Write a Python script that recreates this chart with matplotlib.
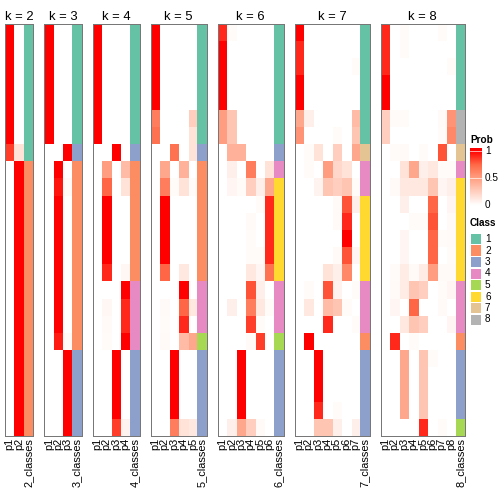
import matplotlib
matplotlib.use("Agg")
import matplotlib.pyplot as plt
import numpy as np
from matplotlib.colors import LinearSegmentedColormap, ListedColormap, BoundaryNorm
from matplotlib.patches import Rectangle

plt.rcParams["font.family"] = ["Liberation Sans", "DejaVu Sans"]

# --------------------------- data --------------------------------
class_colors = ["#66C2A5", "#FC8D62", "#8DA0CB", "#E78AC3",
                "#A6D854", "#FFD92F", "#E5C494", "#B3B3B3"]
class_labels = ["1", "2", "3", "4", "5", "6", "7", "8"]
prob_ticks = [1, 0.5, 0]
prob_tick_labels = ["1", "0.5", "0"]

prob_k2 = ([[1, 0]] * 7 + [[0.85, 0.15]] + [[0, 1]] * 16)
class_k2 = [1] * 8 + [2] * 16

prob_k3 = ([[1, 0, 0]] * 7
           + [[0, 0, 1], [0, 1, 0], [0, 0.95, 0.03]]
           + [[0, 1, 0]] * 8
           + [[0, 0.93, 0.03]]
           + [[0, 0, 1]] * 5)
class_k3 = [1] * 7 + [3] + [2] * 11 + [3] * 5

prob_k4 = ([[1, 0, 0, 0]] * 7
           + [[0, 0, 1, 0], [0, 0.5, 0, 0.35], [0, 0.75, 0, 0.15]]
           + [[0, 1, 0, 0]] * 4
           + [[0, 0.9, 0, 0.04], [0, 0, 0, 1], [0, 0.04, 0, 0.9],
              [0, 0.03, 0, 0.9], [0, 0.02, 0, 1]]
           + [[0, 0, 1, 0]] * 4
           + [[0, 0, 0.85, 0.06]])
class_k4 = [1] * 7 + [3] + [2] * 7 + [4] * 4 + [3] * 5

prob_k5 = ([[1, 0, 0, 0, 0]] * 5
           + [[0.65, 0, 0, 0, 0.25], [0.7, 0, 0, 0, 0.15],
              [0, 0, 0.7, 0, 0.15], [0, 0.45, 0, 0.4, 0],
              [0, 0.65, 0.02, 0.15, 0.02]]
           + [[0, 1, 0, 0, 0]] * 4
           + [[0, 0.75, 0, 0.12, 0], [0, 0, 0, 1, 0],
              [0, 0.03, 0, 0.75, 0.12], [0, 0.02, 0, 0.9, 0],
              [0, 0.03, 0, 0.35, 0.45]]
           + [[0, 0, 1, 0, 0]] * 4
           + [[0, 0, 0.65, 0.15, 0.12]])
class_k5 = [1] * 7 + [3] + [2] * 7 + [4] * 3 + [5] + [3] * 5

prob_k6 = ([[0.9, 0.02, 0, 0, 0, 0]]
           + [[1, 0, 0, 0, 0, 0]] * 4
           + [[0.5, 0.3, 0, 0, 0, 0], [0.5, 0.3, 0, 0, 0, 0],
              [0, 0.4, 0.4, 0, 0, 0], [0, 0.08, 0, 0.65, 0, 0.15],
              [0, 0.05, 0.02, 0.25, 0.08, 0.45], [0, 0, 0, 0, 0.02, 0.9],
              [0, 0, 0, 0.03, 0, 0.9], [0, 0, 0, 0.02, 0, 0.9],
              [0, 0, 0, 0.02, 0.02, 0.9], [0, 0, 0, 0.12, 0.05, 0.7],
              [0, 0, 0, 0.8, 0.08, 0], [0, 0.08, 0, 0.65, 0.12, 0.02],
              [0, 0, 0, 0.85, 0.02, 0], [0, 0, 0, 0.03, 0.85, 0]]
           + [[0, 0, 1, 0, 0, 0]] * 4
           + [[0, 0.08, 0.45, 0.25, 0.03, 0]])
class_k6 = [1] * 7 + [3] + [4] + [6] * 6 + [4] * 3 + [5] + [3] * 5

prob_k7 = ([[1, 0, 0, 0, 0, 0, 0], [0.9, 0, 0, 0, 0, 0, 0],
            [0.9, 0, 0, 0, 0, 0, 0.02], [1, 0, 0, 0, 0, 0, 0],
            [1, 0, 0, 0, 0, 0, 0], [0.45, 0.08, 0, 0, 0, 0, 0.35],
            [0.55, 0, 0, 0, 0.02, 0, 0.3], [0, 0.02, 0.15, 0, 0.25, 0, 0.45],
            [0, 0.02, 0, 0.5, 0.2, 0.15, 0], [0, 0, 0.06, 0.3, 0.25, 0.3, 0.02],
            [0, 0, 0, 0, 0.03, 0.8, 0.08], [0, 0, 0, 0, 0.03, 0.9, 0],
            [0, 0, 0, 0, 0, 1, 0], [0, 0, 0, 0, 0.03, 0.8, 0.05],
            [0, 0, 0, 0.15, 0.08, 0.6, 0], [0, 0.02, 0, 0.8, 0.06, 0, 0.02],
            [0, 0.12, 0, 0.35, 0.3, 0.02, 0], [0, 0, 0, 0.9, 0, 0, 0.02],
            [0, 1, 0, 0, 0, 0, 0]]
           + [[0, 0, 1, 0, 0, 0, 0]] * 3
           + [[0, 0, 0.9, 0, 0.02, 0, 0], [0, 0, 0.3, 0.3, 0.08, 0, 0.08]])
class_k7 = [1] * 7 + [7] + [4] * 2 + [6] * 5 + [4] * 3 + [2] + [3] * 5

prob_k8 = ([[0.9, 0, 0.02, 0, 0, 0, 0.02, 0], [0.9, 0, 0.02, 0, 0, 0, 0, 0],
            [0.9, 0, 0, 0, 0, 0, 0, 0.02], [1, 0, 0, 0, 0, 0, 0, 0],
            [1, 0, 0, 0, 0, 0, 0, 0], [0.25, 0.02, 0.02, 0, 0, 0, 0.03, 0.55],
            [0.25, 0, 0, 0, 0, 0, 0.02, 0.6], [0, 0.02, 0.03, 0, 0.02, 0, 0.8, 0],
            [0, 0, 0.15, 0.45, 0.08, 0.12, 0.02, 0.02],
            [0, 0.03, 0.12, 0.12, 0.12, 0.3, 0.05, 0.08],
            [0, 0, 0.08, 0, 0, 0.75, 0, 0.05], [0, 0, 0, 0.02, 0.02, 0.8, 0, 0.03],
            [0, 0, 0.05, 0, 0, 0.75, 0.02, 0.03], [0, 0, 0.05, 0, 0, 0.75, 0, 0.02],
            [0, 0.02, 0.1, 0.03, 0.1, 0.5, 0.03, 0.03],
            [0, 0.03, 0.1, 0.3, 0.25, 0, 0.02, 0.05],
            [0, 0.05, 0, 0.75, 0, 0, 0.03, 0], [0, 0, 0.12, 0.3, 0.25, 0, 0, 0.05],
            [0, 0.9, 0, 0.02, 0, 0, 0, 0], [0, 0, 0.45, 0, 0.3, 0.02, 0, 0]]
           + [[0, 0, 0.45, 0, 0.3, 0, 0, 0]] * 3
           + [[0, 0, 0, 0, 0.9, 0, 0.02, 0]])
class_k8 = [1] * 5 + [8] * 2 + [7] + [4] + [6] * 6 + [4] * 3 + [2] + [3] * 4 + [5]

panels = [(2, prob_k2, class_k2), (3, prob_k3, class_k3), (4, prob_k4, class_k4),
          (5, prob_k5, class_k5), (6, prob_k6, class_k6), (7, prob_k7, class_k7),
          (8, prob_k8, class_k8)]

# --------------------------- styles ------------------------------
# white -> red, interpolated in Lab like colorRamp2
prob_cmap = LinearSegmentedColormap.from_list(
    "prob", [(0.0, "#FFFFFF"), (0.25, "#FFCFBF"), (0.5, "#FF9E81"),
             (0.75, "#FF6846"), (1.0, "#FF0000")])
class_cmap = ListedColormap(class_colors)
class_norm = BoundaryNorm(np.arange(0.5, len(class_colors) + 1), len(class_colors))

W = H = 504
fig = plt.figure(figsize=(W / 72, H / 72), dpi=72)


def px_axes(x0, y0, x1, y1):
    return fig.add_axes([x0 / W, 1 - y1 / H, (x1 - x0) / W, (y1 - y0) / H])


left, top, bottom, right, gap = 5, 24, 436, 465, 11
ncols_total = sum(k + 1 for k, _, _ in panels)
colw = (right - left - gap * (len(panels) - 1)) / ncols_total

x = left
for k, probs, classes in panels:
    P = np.array(probs, dtype=float)
    C = np.array(classes)[:, None]
    n = len(P)
    ax = px_axes(x, top, x + (k + 1) * colw, bottom)
    ax.imshow(P, cmap=prob_cmap, vmin=0, vmax=1, extent=(0, k, n, 0),
              aspect="auto", interpolation="nearest")
    ax.imshow(C, cmap=class_cmap, norm=class_norm, extent=(k, k + 1, n, 0),
              aspect="auto", interpolation="nearest")
    ax.set_xlim(0, k + 1)
    ax.set_ylim(n, 0)
    ax.set_yticks([])
    ax.set_xticks(np.arange(k + 1) + 0.5)
    ax.set_xticklabels([f"p{i + 1}" for i in range(k)] + [f"{k}_classes"],
                       rotation=90, fontsize=11)
    ax.tick_params(axis="x", length=0, pad=2)
    for s in ax.spines.values():
        s.set_color("#777777")
        s.set_linewidth(1)
    ax.set_title(f"k = {k}", fontsize=13, pad=4)
    x += (k + 1) * colw + gap

# --------------------------- legends -----------------------------
fig.text(470 / W, 1 - 140 / H, "Prob", fontsize=10, fontweight="bold",
         ha="left", va="center")
cax = px_axes(470, 148, 482, 208)
grad = np.clip(np.linspace(1.05, -0.05, 220), 0, 1)[:, None]
cax.imshow(grad, cmap=prob_cmap, vmin=0, vmax=1, extent=(0, 1, -0.05, 1.05),
           aspect="auto", interpolation="bilinear")
cax.set_xlim(0, 1)
cax.set_ylim(-0.05, 1.05)
cax.axis("off")
for v, lab in zip(prob_ticks, prob_tick_labels):
    cax.axhline(v, color="white", lw=0.8, alpha=0.8)
    cax.text(1.25, v, lab, transform=cax.get_yaxis_transform(),
             fontsize=10, ha="left", va="center")

fig.text(470 / W, 1 - 223 / H, "Class", fontsize=10, fontweight="bold",
         ha="left", va="center")
for i, (col, lab) in enumerate(zip(class_colors, class_labels)):
    y0 = 234 + i * 11.5
    fig.add_artist(Rectangle((471 / W, 1 - (y0 + 10) / H), 10 / W, 10 / H,
                             transform=fig.transFigure, facecolor=col,
                             edgecolor="none"))
    fig.text(485 / W, 1 - (y0 + 5) / H, lab, fontsize=10, ha="left", va="center")

fig.savefig("out.png", dpi=72)
